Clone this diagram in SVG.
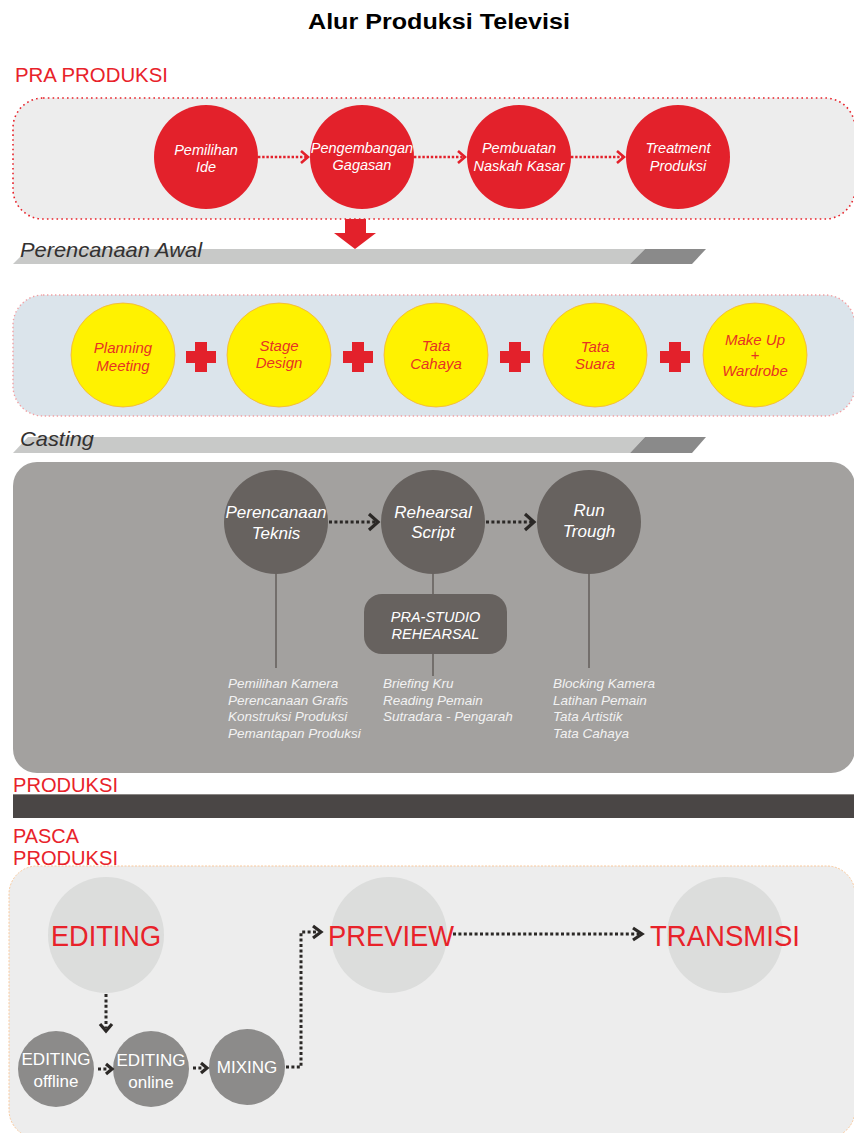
<svg xmlns="http://www.w3.org/2000/svg" width="854" height="1133" viewBox="0 0 854 1133">
  <defs>
    <style>
      .f { font-family: "Liberation Sans", Arial, sans-serif; }
      .sec { font-family: "Liberation Sans", Arial, sans-serif; font-size: 21px; fill: #e8222a; }
      .bar-lbl { font-family: "Liberation Sans", Arial, sans-serif; font-size: 21px; font-style: italic; fill: #333131; }
      .red-c { fill: #e3212b; }
      .red-t { font-family: "Liberation Sans", Arial, sans-serif; font-size: 14.5px; font-style: italic; fill: #ffffff; text-anchor: middle; }
      .yel-c { fill: #fff200; stroke: #f3b13a; stroke-width: 0.8; }
      .yel-t { font-family: "Liberation Sans", Arial, sans-serif; font-size: 15px; font-style: italic; fill: #e63323; text-anchor: middle; }
      .cross { fill: #e3212b; }
      .dk-c { fill: #67625f; }
      .dk-t { font-family: "Liberation Sans", Arial, sans-serif; font-size: 17px; font-style: italic; fill: #ffffff; text-anchor: middle; }
      .list { font-family: "Liberation Sans", Arial, sans-serif; font-size: 13.5px; font-style: italic; fill: #f2f2f2; }
      .stem { stroke: #67625f; stroke-width: 1.6; fill: none; }
      .lt-c { fill: #dcdddc; }
      .big-t { font-family: "Liberation Sans", Arial, sans-serif; font-size: 29px; fill: #e8222a; }
      .sm-c { fill: #8c8b8a; }
      .sm-t { font-family: "Liberation Sans", Arial, sans-serif; font-size: 17px; fill: #ffffff; text-anchor: middle; }
      .dot-red { stroke: #e3212b; stroke-width: 2.6; stroke-dasharray: 2.4 1.8; fill: none; }
      .dot-dk { stroke: #2b2826; stroke-width: 3; stroke-dasharray: 3 2.4; fill: none; }
      .chev-red { stroke: #e3212b; stroke-width: 2.6; fill: none; stroke-linejoin: miter; }
      .chev-dk { stroke: #2b2826; stroke-width: 3.2; fill: none; stroke-linejoin: miter; }
    </style>
  </defs>

  <rect width="854" height="1133" fill="#ffffff"/>

  <!-- title -->
  <text id="title" class="f" x="439" y="29" font-size="22" font-weight="bold" fill="#000000" text-anchor="middle" textLength="262" lengthAdjust="spacingAndGlyphs">Alur Produksi Televisi</text>

  <!-- ========== PRA PRODUKSI ========== -->
  <text id="lbl-pra" class="sec" x="15" y="82" textLength="153" lengthAdjust="spacingAndGlyphs">PRA PRODUKSI</text>

  <g id="panel-ide">
    <rect x="13" y="98" width="842" height="121" rx="30" ry="30" fill="#ededed" stroke="#e8222a" stroke-width="1.6" stroke-dasharray="1.6 3.2"/>
  </g>

  <g id="node-pemilihan-ide">
    <circle class="red-c" cx="206" cy="157" r="52"/>
    <text class="red-t" x="206" y="155">Pemilihan</text>
    <text class="red-t" x="206" y="172">Ide</text>
  </g>
  <g id="node-pengembangan">
    <circle class="red-c" cx="362" cy="157" r="52"/>
    <text class="red-t" x="362" y="153">Pengembangan</text>
    <text class="red-t" x="362" y="170">Gagasan</text>
  </g>
  <g id="node-pembuatan">
    <circle class="red-c" cx="519" cy="157" r="52"/>
    <text class="red-t" x="519" y="153">Pembuatan</text>
    <text class="red-t" x="519" y="171">Naskah Kasar</text>
  </g>
  <g id="node-treatment">
    <circle class="red-c" cx="678" cy="157" r="52"/>
    <text class="red-t" x="678" y="153">Treatment</text>
    <text class="red-t" x="678" y="171">Produksi</text>
  </g>

  <!-- down arrow into planning -->
  <g id="arrow-down">
    <polygon points="345,219 366,219 366,233 376,233 355,249 334,233 345,233" fill="#e3212b"/>
  </g>

  <!-- Perencanaan Awal bar -->
  <g id="bar-perencanaan">
    <polygon points="28,249 645,249 630,264 13,264" fill="#c8c9c8"/>
    <polygon points="645,249 706,249 692,264 630,264" fill="#8a8a8a"/>
    <text class="bar-lbl" x="20" y="257" textLength="182" lengthAdjust="spacingAndGlyphs">Perencanaan Awal</text>
  </g>

  <!-- ========== planning panel ========== -->
  <g id="panel-planning">
    <rect x="13" y="295" width="842" height="121" rx="30" ry="30" fill="#dbe4eb" stroke="#f2a0a3" stroke-width="1.4" stroke-dasharray="1.4 2.6"/>
  </g>

  <g id="node-planning">
    <circle class="yel-c" cx="123" cy="355" r="52"/>
    <text class="yel-t" x="123" y="353">Planning</text>
    <text class="yel-t" x="123" y="371">Meeting</text>
  </g>
  <g id="node-stage">
    <circle class="yel-c" cx="279" cy="355" r="52"/>
    <text class="yel-t" x="279" y="351">Stage</text>
    <text class="yel-t" x="279" y="368">Design</text>
  </g>
  <g id="node-cahaya">
    <circle class="yel-c" cx="436" cy="355" r="52"/>
    <text class="yel-t" x="436" y="351">Tata</text>
    <text class="yel-t" x="436" y="369">Cahaya</text>
  </g>
  <g id="node-suara">
    <circle class="yel-c" cx="595" cy="355" r="52"/>
    <text class="yel-t" x="595" y="352">Tata</text>
    <text class="yel-t" x="595" y="369">Suara</text>
  </g>
  <g id="node-makeup">
    <circle class="yel-c" cx="755" cy="355" r="52"/>
    <text class="yel-t" x="755" y="345">Make Up</text>
    <text class="yel-t" x="755" y="360" font-size="10">+</text>
    <text class="yel-t" x="755" y="376">Wardrobe</text>
  </g>

  <!-- plus signs between planning items -->
  <g id="plus-signs">
    <path class="cross" d="M195,342 h12 v9 h9 v12 h-9 v9 h-12 v-9 h-9 v-12 h9 z"/>
    <path class="cross" d="M352,342 h12 v9 h9 v12 h-9 v9 h-12 v-9 h-9 v-12 h9 z"/>
    <path class="cross" d="M509,342 h12 v9 h9 v12 h-9 v9 h-12 v-9 h-9 v-12 h9 z"/>
    <path class="cross" d="M669,342 h12 v9 h9 v12 h-9 v9 h-12 v-9 h-9 v-12 h9 z"/>
  </g>

  <!-- Casting bar -->
  <g id="bar-casting">
    <polygon points="28,437 645,437 630,453 13,453" fill="#c8c9c8"/>
    <polygon points="645,437 706,437 692,453 630,453" fill="#8a8a8a"/>
    <text class="bar-lbl" x="20" y="446" textLength="74" lengthAdjust="spacingAndGlyphs">Casting</text>
  </g>

  <!-- ========== casting panel ========== -->
  <g id="panel-casting">
    <rect x="13" y="462" width="842" height="311" rx="24" ry="24" fill="#a3a19f"/>
  </g>

  <g id="node-teknis">
    <line class="stem" x1="276" y1="570" x2="276" y2="668"/>
    <circle class="dk-c" cx="276" cy="522" r="52"/>
    <text class="dk-t" x="276" y="518">Perencanaan</text>
    <text class="dk-t" x="276" y="539">Teknis</text>
    <text class="list" x="228" y="688">Pemilihan Kamera</text>
    <text class="list" x="228" y="705">Perencanaan Grafis</text>
    <text class="list" x="228" y="721">Konstruksi Produksi</text>
    <text class="list" x="228" y="738">Pemantapan Produksi</text>
  </g>

  <g id="node-rehearsal">
    <line class="stem" x1="433" y1="570" x2="433" y2="676"/>
    <circle class="dk-c" cx="433" cy="522" r="52"/>
    <text class="dk-t" x="433" y="518">Rehearsal</text>
    <text class="dk-t" x="433" y="538">Script</text>
  </g>

  <g id="node-prastudio">
    <rect x="364" y="594" width="143" height="60" rx="18" ry="18" fill="#67625f"/>
    <text class="f" x="435.5" y="622" font-size="14.5" font-style="italic" fill="#ffffff" text-anchor="middle">PRA-STUDIO</text>
    <text class="f" x="435.5" y="639" font-size="14.5" font-style="italic" fill="#ffffff" text-anchor="middle">REHEARSAL</text>
    <text class="list" x="383" y="688">Briefing Kru</text>
    <text class="list" x="383" y="705">Reading Pemain</text>
    <text class="list" x="383" y="721">Sutradara - Pengarah</text>
  </g>

  <g id="node-runtrough">
    <line class="stem" x1="589" y1="570" x2="589" y2="668"/>
    <circle class="dk-c" cx="589" cy="522" r="52"/>
    <text class="dk-t" x="589" y="516">Run</text>
    <text class="dk-t" x="589" y="537">Trough</text>
    <text class="list" x="553" y="688">Blocking Kamera</text>
    <text class="list" x="553" y="705">Latihan Pemain</text>
    <text class="list" x="553" y="721">Tata Artistik</text>
    <text class="list" x="553" y="738">Tata Cahaya</text>
  </g>

  <!-- ========== PRODUKSI ========== -->
  <text id="lbl-produksi" class="sec" x="13" y="792" textLength="105" lengthAdjust="spacingAndGlyphs">PRODUKSI</text>
  <g id="bar-produksi">
    <rect x="13" y="794" width="842" height="24" fill="#4a4645"/>
    <line x1="13" y1="794.5" x2="855" y2="794.5" stroke="#8a8684" stroke-width="1"/>
  </g>

  <!-- ========== PASCA PRODUKSI ========== -->
  <g id="lbl-pasca">
    <text class="sec" x="13" y="843" font-size="20" textLength="66" lengthAdjust="spacingAndGlyphs">PASCA</text>
    <text class="sec" x="13" y="865" font-size="20" textLength="105" lengthAdjust="spacingAndGlyphs">PRODUKSI</text>
  </g>

  <g id="panel-pasca">
    <rect x="9" y="866" width="846" height="272" rx="28" ry="28" fill="#ededed" stroke="#f9c89b" stroke-width="1" stroke-dasharray="2 1.5"/>
  </g>

  <g id="node-editing">
    <circle class="lt-c" cx="106" cy="935" r="58"/>
    <text class="big-t" x="106" y="946" text-anchor="middle" textLength="110" lengthAdjust="spacingAndGlyphs">EDITING</text>
  </g>
  <g id="node-preview">
    <circle class="lt-c" cx="389" cy="935" r="58"/>
    <text class="big-t" x="328" y="946" textLength="126" lengthAdjust="spacingAndGlyphs">PREVIEW</text>
  </g>
  <g id="node-transmisi">
    <circle class="lt-c" cx="725" cy="935" r="58"/>
    <text class="big-t" x="650" y="946" textLength="150" lengthAdjust="spacingAndGlyphs">TRANSMISI</text>
  </g>

  <g id="node-offline">
    <circle class="sm-c" cx="56" cy="1069" r="38"/>
    <text class="sm-t" x="56" y="1065">EDITING</text>
    <text class="sm-t" x="56" y="1087">offline</text>
  </g>
  <g id="node-online">
    <circle class="sm-c" cx="151" cy="1069" r="38"/>
    <text class="sm-t" x="151" y="1066">EDITING</text>
    <text class="sm-t" x="151" y="1088">online</text>
  </g>
  <g id="node-mixing">
    <circle class="sm-c" cx="247" cy="1067" r="38"/>
    <text class="sm-t" x="247" y="1073">MIXING</text>
  </g>

  <!-- ========== connectors ========== -->
  <g id="connectors">
    <!-- pre-production chain -->
    <line class="dot-red" x1="258" y1="157" x2="307" y2="157"/>
    <polyline class="chev-red" points="301,151 308,157 301,163"/>
    <line class="dot-red" x1="414" y1="157" x2="464" y2="157"/>
    <polyline class="chev-red" points="458,151 465,157 458,163"/>
    <line class="dot-red" x1="571" y1="157" x2="623" y2="157"/>
    <polyline class="chev-red" points="617,151 624,157 617,163"/>

    <!-- casting chain -->
    <line class="dot-dk" x1="329" y1="522" x2="376" y2="522"/>
    <polyline class="chev-dk" points="369,514 378,522 369,530"/>
    <line class="dot-dk" x1="486" y1="522" x2="532" y2="522"/>
    <polyline class="chev-dk" points="525,514 534,522 525,530"/>

    <!-- post-production -->
    <line class="dot-dk" x1="106" y1="994" x2="106" y2="1028"/>
    <polyline class="chev-dk" points="100,1024 106,1031 112,1024"/>

    <line class="dot-dk" x1="98" y1="1069" x2="108" y2="1069" stroke-dasharray="2.5 2.5"/>
    <polyline class="chev-dk" points="106,1064 112,1069 106,1074"/>
    <line class="dot-dk" x1="193" y1="1068" x2="203" y2="1068" stroke-dasharray="2.5 2.5"/>
    <polyline class="chev-dk" points="201,1063 207,1068 201,1073"/>

    <path class="dot-dk" d="M286,1067 H301 V932 H318"/>
    <polyline class="chev-dk" points="313,926 321,932 313,938"/>

    <line class="dot-dk" x1="453" y1="934" x2="639" y2="934"/>
    <polyline class="chev-dk" points="633,928 642,934 633,940"/>
  </g>
</svg>
